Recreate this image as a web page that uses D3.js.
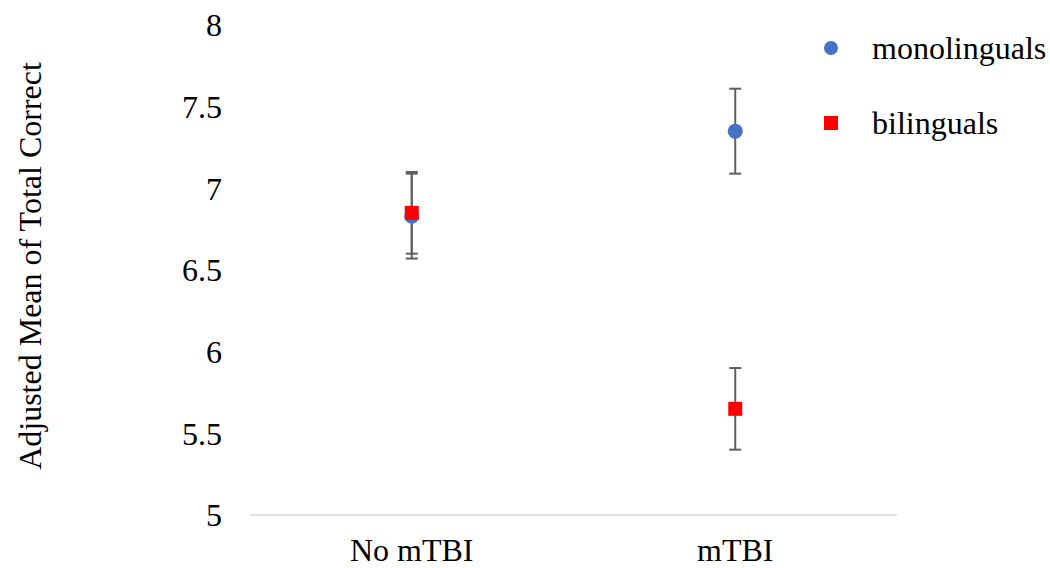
<!DOCTYPE html>
<html>
<head>
<meta charset="utf-8">
<script src="https://cdn.jsdelivr.net/npm/d3@7"></script>
<style>
  body { margin: 0; background: #fff; }
  text { font-family: "Liberation Serif", "Times New Roman", serif; fill: #000; }
</style>
</head>
<body>
<svg id="chart" width="1050" height="568"></svg>
<script>
// data
const groups = ["No mTBI", "mTBI"];
const seriesNames = ["monolinguals", "bilinguals"];
const monoMeans = [6.83, 7.35];
const monoErr = [0.26, 0.26];
const biMeans = [6.85, 5.65];
const biErr = [0.25, 0.25];
const yTicks = [5, 5.5, 6, 6.5, 7, 7.5, 8];

let svg = d3.select("#chart");

let margin = {top: 25, left: 250, right: 153, bottom: 53};
let width = 1050 - margin.left - margin.right;
let height = 568 - margin.top - margin.bottom;
let fontSize = 32;

let g = svg.append("g")
  .attr("transform", `translate(${margin.left},${margin.top})`);

//scales
let xScale = d3.scaleBand()
  .domain(groups)
  .range([0, width]);

let yScale = d3.scaleLinear()
  .domain([5, 8])
  .range([height, 0]);

//bottom axis line
g.append("line")
  .attr("x1", 0)
  .attr("x2", width)
  .attr("y1", height)
  .attr("y2", height)
  .attr("stroke", "#d9d9d9")
  .attr("stroke-width", 1.5);

//y tick labels
g.selectAll(".ytick")
  .data(yTicks)
  .enter()
  .append("text")
  .attr("x", -28)
  .attr("y", d => yScale(d))
  .attr("dy", "0.35em")
  .attr("text-anchor", "end")
  .attr("font-size", fontSize)
  .text(d => d);

//x labels
g.selectAll(".xtick")
  .data(groups)
  .enter()
  .append("text")
  .attr("x", d => xScale(d) + xScale.bandwidth() / 2)
  .attr("y", height + 46)
  .attr("text-anchor", "middle")
  .attr("font-size", fontSize)
  .text(d => d);

//y title
svg.append("text")
  .attr("transform", `translate(30,266) rotate(-90)`)
  .attr("text-anchor", "middle")
  .attr("dy", "0.35em")
  .attr("font-size", fontSize)
  .text("Adjusted Mean of Total Correct");

//error bars
function drawErr(means, errs) {
  let eg = g.append("g");
  means.forEach((m, i) => {
    let cx = xScale(groups[i]) + xScale.bandwidth() / 2;
    let y1 = yScale(m + errs[i]);
    let y2 = yScale(m - errs[i]);
    eg.append("line")
      .attr("x1", cx).attr("x2", cx)
      .attr("y1", y1).attr("y2", y2)
      .attr("stroke", "#5f5f5f").attr("stroke-width", 2);
    [y1, y2].forEach(y => {
      eg.append("line")
        .attr("x1", cx - 6).attr("x2", cx + 6)
        .attr("y1", y).attr("y2", y)
        .attr("stroke", "#5f5f5f").attr("stroke-width", 2);
    });
  });
}
drawErr(monoMeans, monoErr);
drawErr(biMeans, biErr);

//points
g.selectAll(".mono")
  .data(monoMeans)
  .enter()
  .append("circle")
  .attr("cx", (d, i) => xScale(groups[i]) + xScale.bandwidth() / 2)
  .attr("cy", d => yScale(d))
  .attr("r", 7.5)
  .attr("fill", "#4472c4");

g.selectAll(".bi")
  .data(biMeans)
  .enter()
  .append("rect")
  .attr("x", (d, i) => xScale(groups[i]) + xScale.bandwidth() / 2 - 7)
  .attr("y", d => yScale(d) - 7)
  .attr("width", 14)
  .attr("height", 14)
  .attr("fill", "#ff0000");

//legend
let legend = svg.append("g");
legend.append("circle")
  .attr("cx", 831).attr("cy", 48).attr("r", 7)
  .attr("fill", "#4472c4");
legend.append("text")
  .attr("x", 872).attr("y", 48).attr("dy", "0.35em")
  .attr("font-size", fontSize)
  .text(seriesNames[0]);
legend.append("rect")
  .attr("x", 824).attr("y", 116).attr("width", 14).attr("height", 14)
  .attr("fill", "#ff0000");
legend.append("text")
  .attr("x", 872).attr("y", 123).attr("dy", "0.35em")
  .attr("font-size", fontSize)
  .text(seriesNames[1]);
</script>
</body>
</html>
